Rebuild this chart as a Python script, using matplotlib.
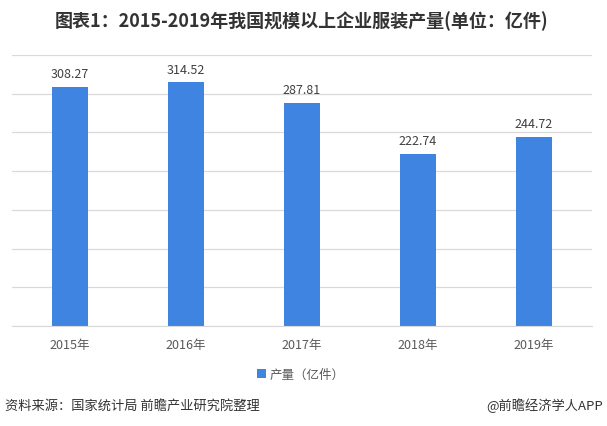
import matplotlib.pyplot as plt
import numpy as np

plt.rcParams['font.family'] = ['Noto Sans CJK SC', 'DejaVu Sans']

years = ['2015年', '2016年', '2017年', '2018年', '2019年']
output = [308.27, 314.52, 287.81, 222.74, 244.72]

fig = plt.figure(figsize=(6.07, 4.27), dpi=100)
ax = fig.add_axes([12 / 607, 1 - 327 / 427, 580 / 607, 271 / 427])

x = np.arange(len(years))
bars = ax.bar(x, output, width=0.31, color='#3f84e0', zorder=2, label='产量（亿件）')
for xi, v in zip(x, output):
    ax.annotate(f'{v:.2f}', (xi, v), xytext=(0, 5), textcoords='offset points',
                ha='center', va='bottom', fontsize=9, color='#404040')

ax.set_xlim(-0.5, len(years) - 0.5)
ax.set_ylim(0, 350)
ax.set_yticks(np.arange(0, 351, 50))
ax.yaxis.grid(True, color='#d9d9d9', linewidth=0.9, zorder=0)
ax.tick_params(axis='y', left=False, labelleft=False)
ax.tick_params(axis='x', length=0, pad=9, labelsize=9, labelcolor='#595959')
ax.set_xticks(x)
ax.set_xticklabels(years)
for s in ['top', 'right', 'left']:
    ax.spines[s].set_visible(False)
ax.spines['bottom'].set_color('#d9d9d9')

fig.legend(handles=[bars], loc='center', bbox_to_anchor=(301 / 607, 1 - 375 / 427),
           frameon=False, fontsize=9, handlelength=0.7, handleheight=0.7,
           handletextpad=0.3, labelcolor='#595959')

fig.text(302 / 607, 1 - 21 / 427, '图表1：2015-2019年我国规模以上企业服装产量(单位：亿件)',
         ha='center', va='center', fontsize=13, fontweight='bold', color='#333333')
fig.text(5 / 607, 1 - 406 / 427, '资料来源：国家统计局 前瞻产业研究院整理',
         ha='left', va='center', fontsize=9.5, color='#333333')
fig.text(603 / 607, 1 - 406 / 427, '@前瞻经济学人APP',
         ha='right', va='center', fontsize=9.5, color='#333333')

fig.savefig('out.png', dpi=100)
